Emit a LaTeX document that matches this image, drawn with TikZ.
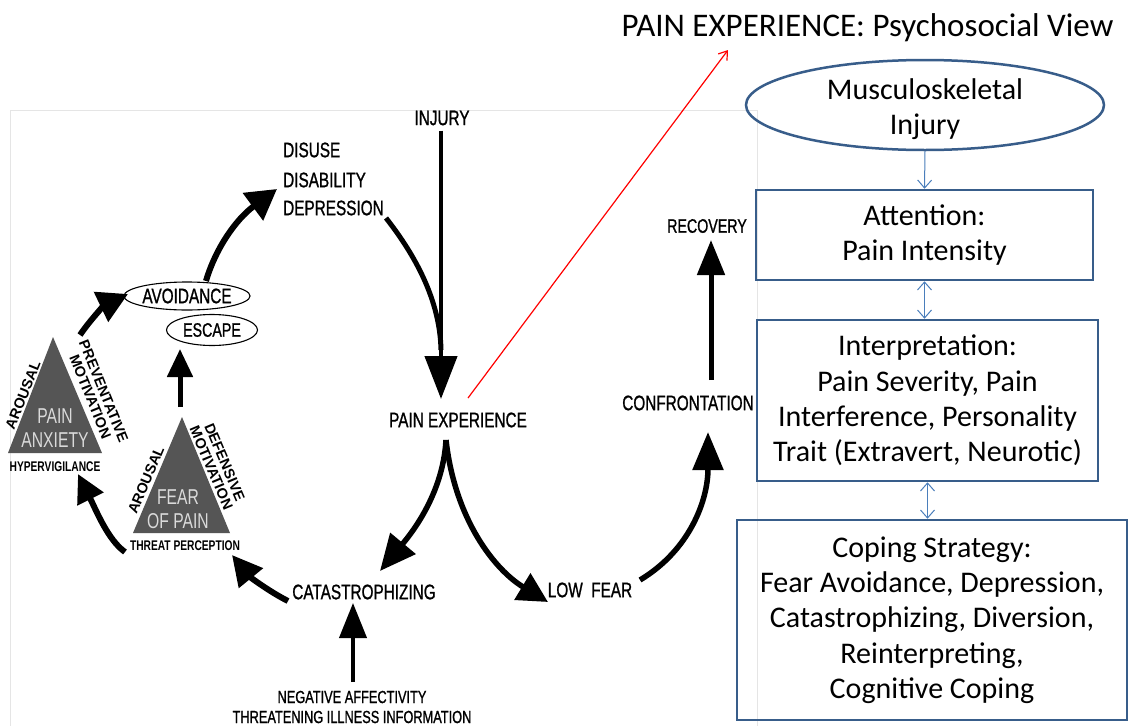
\documentclass[tikz,border=0pt]{standalone}
\usepackage{fontspec}
\setmainfont{Carlito}
\newfontfamily\cond[FakeStretch=0.73,FakeBold=1]{Liberation Sans}
\newfontfamily\condl[FakeStretch=0.73]{Liberation Sans}
\newfontfamily\plainsans{Liberation Sans}
\usetikzlibrary{arrows.meta,shapes.geometric,calc}
\definecolor{pblue}{RGB}{56,93,138}
\definecolor{ablue}{RGB}{74,126,187}
\definecolor{tri}{RGB}{85,85,85}
\definecolor{trit}{RGB}{218,218,218}
\begin{document}
\begin{tikzpicture}[x=1pt,y=-1pt,
  lbl/.style={font=\cond\fontsize{21}{24}\selectfont, inner sep=0pt},
  lblm/.style={font=\cond\fontsize{19.5}{22}\selectfont, inner sep=0pt},
  lbls/.style={font=\cond\fontsize{17.5}{20}\selectfont, inner sep=0pt, align=center},
  lblb/.style={font=\condl\bfseries\fontsize{14}{16}\selectfont, inner sep=0pt},
  rot/.style={font=\plainsans\bfseries\fontsize{14.5}{14.5}\selectfont, inner sep=0pt, align=center},
  tritext/.style={font=\condl\fontsize{21.5}{24.5}\selectfont, text=trit, inner sep=0pt, align=center},
  oval/.style={draw, ellipse, line width=1.1pt, inner sep=0pt},
  arr/.style n args={3}{line width=#1pt, -{Triangle[length=#2pt,width=#3pt]}},
  bluebox/.style={draw=pblue, line width=2.5pt, inner sep=0pt, align=center,
     font=\fontsize{30}{35.3}\selectfont},
  thin/.style={draw=ablue, line width=1pt, -{Straight Barb[length=8pt,width=14pt]}},
  thinboth/.style={draw=ablue, line width=1pt, {Straight Barb[length=8pt,width=14pt]}-{Straight Barb[length=8pt,width=14pt]}}
]
\useasboundingbox (0,0) rectangle (1128,726);
\fill[white] (0,0) rectangle (1128,726);

% faint frame of the embedded picture
\draw[black!10, line width=0.8pt] (10,726) -- (10,110) -- (757,110) -- (757,726);

% ---------- left diagram: labels ----------
\node[lbl] (injury) at (442,118) {INJURY};
\node[lbl, anchor=west] (disuse) at (283,150) {DISUSE};
\node[lbl, anchor=west] (disab) at (283,180) {DISABILITY};
\node[lbl, anchor=west] (depr) at (283,208) {DEPRESSION};
\node[lbl] (pe) at (458,420) {PAIN EXPERIENCE};
\node[lblm] (recovery) at (707,226) {RECOVERY};
\node[lbl] (confr) at (688,403) {CONFRONTATION};
\node[lbl] (lowfear) at (590,590) {LOW\ \ FEAR};
\node[lbl] (catas) at (364,592) {CATASTROPHIZING};
\node[lbls] (neg) at (352,707) {NEGATIVE AFFECTIVITY\\THREATENING ILLNESS INFORMATION};

\node[oval, minimum width=121pt, minimum height=28pt, lbl] (avoid) at (187,296) {AVOIDANCE};
\node[oval, minimum width=91pt, minimum height=31pt, lblm] (escape) at (212,330) {ESCAPE};

% triangles
\coordinate (pa1) at (53,337); \coordinate (pa2) at (102,453); \coordinate (pa3) at (8,453);
\fill[tri] (pa1) -- (pa2) -- (pa3) -- cycle;
\coordinate (fp1) at (182,417); \coordinate (fp2) at (230,533); \coordinate (fp3) at (133,533);
\fill[tri] (fp1) -- (fp2) -- (fp3) -- cycle;
\node[tritext] (patext) at (55,428) {PAIN\\ANXIETY};
\node[tritext] (fptext) at (178,509) {FEAR\\OF PAIN};

\node[lblb] (hyper) at (55,467) {HYPERVIGILANCE};
\node[lblb] (threat) at (185,546) {THREAT PERCEPTION};

\node[rot, rotate=68] (ar1) at (23,395) {AROUSAL};
\node[rot, rotate=-68] (prev) at (97,394) {PREVENTATIVE\\MOTIVATION};
\node[rot, rotate=67] (ar2) at (146,480) {AROUSAL};
\node[rot, rotate=-67] (def) at (218,465) {DEFENSIVE\\MOTIVATION};

% ---------- connector end points ----------
\coordinate (injTip) at (441,399);
\coordinate (merge) at (441,350);
\coordinate (depEnd) at (386,218);
\coordinate (recTip) at (711,240);
\coordinate (cfTop) at (711,380);
\coordinate (cfTip) at (708,432);
\coordinate (lfR) at (640,580);
\coordinate (peBot) at (446,440);
\coordinate (catTip) at (380,571);
\coordinate (lfTip) at (548,602);
\coordinate (negTop) at (353,682);
\coordinate (catBTip) at (353,603);
\coordinate (catL) at (288,601);
\coordinate (thrTip) at (232,555);
\coordinate (thrL) at (125,552);
\coordinate (hypTip) at (78,474);
\coordinate (fpTop) at (180,407);
\coordinate (escTip) at (180,349);
\coordinate (paTop) at (80,335);
\coordinate (avTip) at (128,294);
\coordinate (avTop) at (206,281);
\coordinate (disTip) at (277,189);
\coordinate (redS) at (468,398);
\coordinate (redT) at (728,50);

% ---------- connectors ----------
\draw[arr={4.5}{43}{32}] (injury.south) ++(-1,5) -- (injTip);
\draw[line width=5pt] (depEnd) .. controls (415,255) and (440,300) .. (merge);
\draw[arr={5}{35}{27}] (cfTop) -- (recTip);
\draw[arr={5.5}{38}{30}] (lfR) .. controls (690,550) and (708,500) .. (cfTip);
\draw[arr={5.5}{36}{32}] (peBot) .. controls (443,495) and (410,535) .. (catTip);
\draw[arr={5.5}{30}{30}] (peBot) .. controls (455,520) and (495,570) .. (lfTip);
\draw[arr={4}{35}{27}] (negTop) -- (catBTip);
\draw[arr={6}{30}{30}] (catL) .. controls (270,592) and (250,577) .. (thrTip);
\draw[arr={6}{28}{28}] (thrL) .. controls (108,540) and (96,510) .. (hypTip);
\draw[arr={5}{28}{25}] (fpTop) -- (escTip);
\draw[arr={6}{30}{32}] (paTop) .. controls (90,320) and (105,305) .. (avTip);
\draw[arr={6}{30}{33}] (avTop) .. controls (215,250) and (235,220) .. (disTip);

% red pointer
\draw[red, line width=1.2pt, -{Straight Barb[length=8pt,width=11pt]}] (redS) -- (redT);

% ---------- right column ----------
\node[anchor=base, inner sep=0pt, font=\fontsize{33}{40}\selectfont] (title) at (867.5,36) {PAIN EXPERIENCE: Psychosocial View};

\node[draw=pblue, line width=2.5pt, ellipse, minimum width=358pt, minimum height=90pt,
      inner sep=0pt] (musc) at (925,105) {};
\node[align=center, inner sep=0pt, font=\fontsize{30}{35.3}\selectfont] (musctext) at (925,109) {Musculoskeletal\\Injury};
\node[bluebox, minimum width=337pt, minimum height=90pt] (att) at (924.5,235) {Attention:\\Pain Intensity};
\node[bluebox, minimum width=341pt, minimum height=161pt] (interp) at (927.5,400.5)
  {Interpretation:\\Pain Severity, Pain\\Interference, Personality\\Trait (Extravert, Neurotic)};
\node[bluebox, minimum width=390pt, minimum height=200pt] (coping) at (932,620)
  {Coping Strategy:\\Fear Avoidance, Depression,\\Catastrophizing, Diversion,\\Reinterpreting,\\Cognitive Coping};

\draw[thin] (musc.south) -- (att.north);
\draw[thinboth] (att.south) -- (att.south |- interp.north);
\draw[thinboth] (interp.south) -- (interp.south |- coping.north);
\end{tikzpicture}
\end{document}
